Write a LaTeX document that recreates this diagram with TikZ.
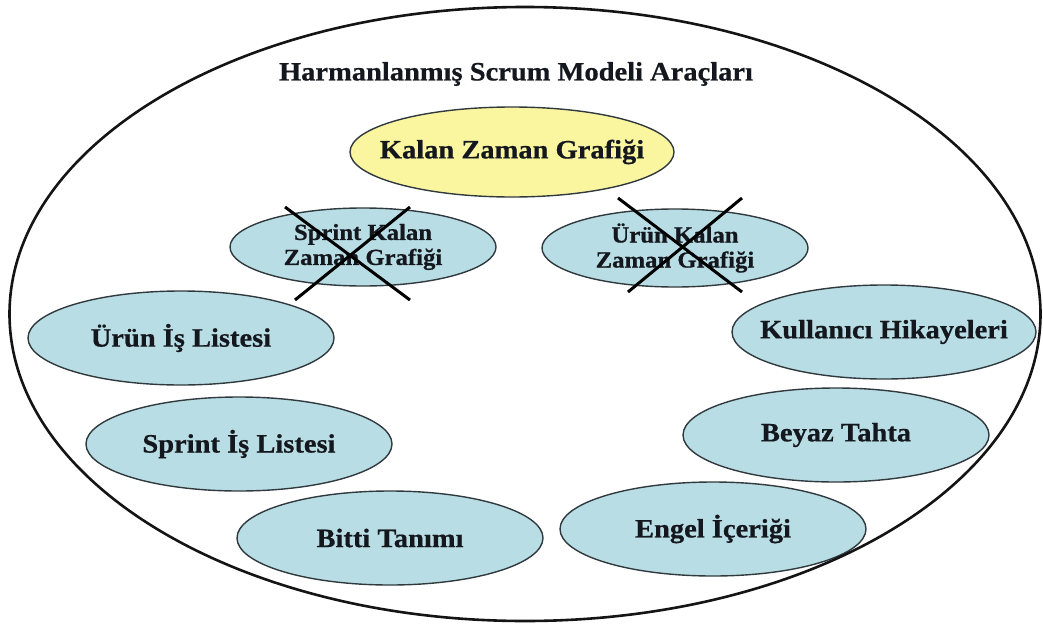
\documentclass[tikz,border=0pt]{standalone}
\usepackage{fontspec}
\usepackage{graphicx}
\setmainfont{Liberation Serif}[BoldFeatures={FakeBold=0.6}]
\usetikzlibrary{shapes.geometric}

\definecolor{toolfill}{RGB}{185,221,228}
\definecolor{keyfill}{RGB}{250,246,160}
\definecolor{rim}{RGB}{48,58,62}
\definecolor{ink}{RGB}{20,24,30}

% text set slightly wider than its natural shape; zero width so that
% the ellipse size comes from its minimum dimensions alone
\newcommand\wide[1]{\makebox[0pt]{\scalebox{1.075}[1]{#1}}}

\begin{document}
\begin{tikzpicture}[x=1pt,y=-1pt,
  bigtext/.style={font=\bfseries\fontsize{26.5}{26.5}\selectfont, text=ink},
  smalltext/.style={font=\bfseries\fontsize{23}{25}\selectfont, text=ink, align=center},
  tool/.style={ellipse, draw=rim, line width=1.4pt, fill=toolfill, inner sep=0pt,
    minimum width=306pt, minimum height=94pt, bigtext},
  oldtool/.style={ellipse, draw=rim, line width=1.4pt, fill=toolfill, inner sep=0pt,
    minimum width=266pt, minimum height=78pt, smalltext},
  keytool/.style={ellipse, draw=rim, line width=1.4pt, fill=keyfill, inner sep=0pt,
    minimum width=324pt, minimum height=90pt, bigtext},
  strike/.style={draw=black, line width=3pt}
]
\useasboundingbox (0,0) rectangle (1043,626);

\node (title) at (516,74) [bigtext] {\wide{Harmanlanmış Scrum Modeli Araçları}};

\node (burndown) at (512,152) [keytool] {\wide{Kalan Zaman Grafiği}};

\node (sprintbd) at (363,247) [oldtool] {\wide{Sprint Kalan}\\\wide{Zaman Grafiği}};
\node (productbd) at (675,248) [oldtool] {\wide{Ürün Kalan}\\\wide{Zaman Grafiği}};

% dropped tools are crossed out
\draw[strike] (285,207) -- (410,300);
\draw[strike] (410,207) -- (295,300);
\draw[strike] (618,198) -- (742,292);
\draw[strike] (742,198) -- (628,292);

\node (pbacklog) at (181,338) [tool] {\wide{Ürün İş Listesi}};
\node (sbacklog) at (239,444) [tool] {\wide{Sprint İş Listesi}};
\node (done) at (390,538) [tool] {\wide{Bitti Tanımı}};

\node (stories) at (884,332) [tool, minimum width=304pt] {\wide{Kullanıcı Hikayeleri}};
\node (board) at (836,435) [tool] {\wide{Beyaz Tahta}};
\node (impediments) at (713,529) [tool] {\wide{Engel İçeriği}};

% enclosing boundary of all tools, drawn on top
\node (frame) at (525,314) [ellipse, draw=black!92, line width=2.6pt,
  minimum width=1031pt, minimum height=614pt, inner sep=0pt] {};
\end{tikzpicture}
\end{document}
